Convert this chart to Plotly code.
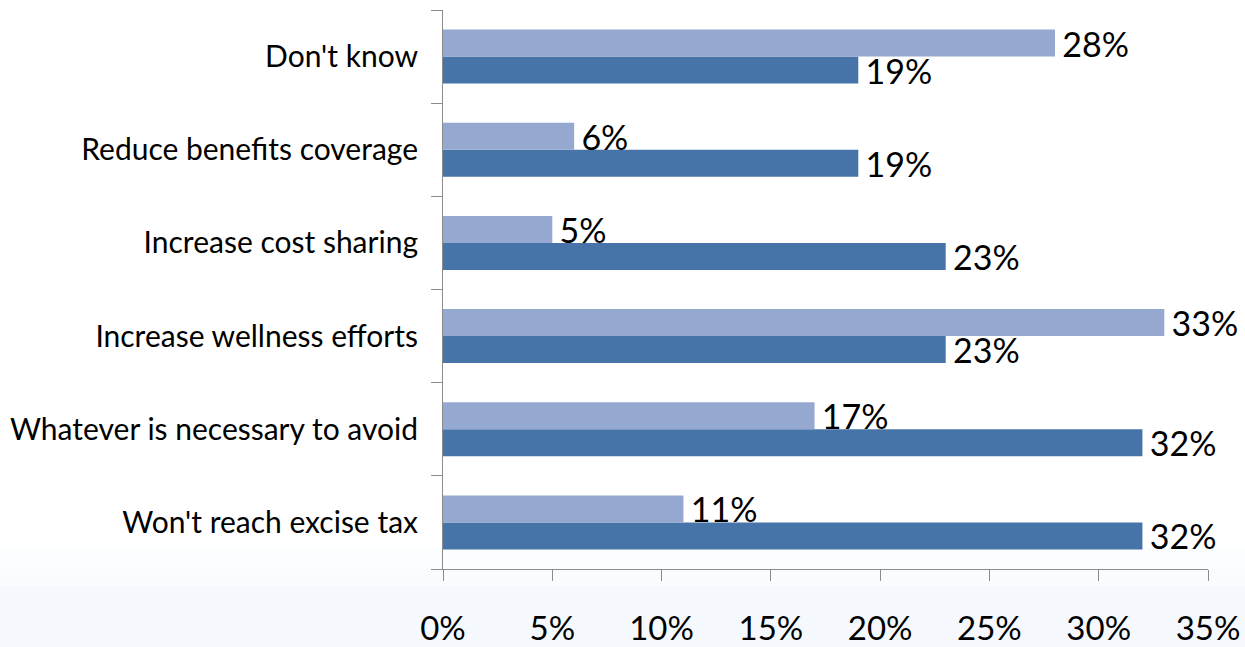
import plotly.graph_objects as go

# Survey responses, listed bottom-to-top as drawn on the category axis
categories = [
    "Won't reach excise tax",
    "Whatever is necessary to avoid",
    "Increase wellness efforts",
    "Increase cost sharing",
    "Reduce benefits coverage",
    "Don't know",
]
dark_values = [32, 32, 23, 23, 19, 19]
light_values = [11, 17, 33, 5, 6, 28]
x_ticks = [0, 5, 10, 15, 20, 25, 30, 35]
x_tick_labels = ["0%", "5%", "10%", "15%", "20%", "25%", "30%", "35%"]

DARK = "#4674A8"
LIGHT = "#95A9D0"
FONT = "Lato"

fig = go.Figure()
for vals, color in ((dark_values, DARK), (light_values, LIGHT)):
    fig.add_trace(go.Bar(
        y=categories, x=vals, orientation="h",
        marker=dict(color=color, line=dict(width=0)),
        # thin space keeps the value label clear of the bar end
        text=[f"\u2009{v}%" for v in vals], textposition="outside",
        constraintext="none",
        textfont=dict(family=FONT, size=34, color="#000000"),
        cliponaxis=False, showlegend=False,
    ))

# faint blue wash along the bottom of the page
bands = [(-0.14, -0.03, "#F5F9FD"), (-0.03, 0.0, "#F9FBFE"), (0.0, 0.04, "#FCFDFE")]
shapes = [
    dict(type="rect", xref="paper", yref="paper", x0=-0.6, x1=1.06, y0=y0, y1=y1,
         fillcolor=c, line=dict(width=0), layer="below")
    for y0, y1, c in bands
]

fig.update_layout(
    width=1245, height=647,
    margin=dict(l=443, r=37, t=10, b=78, autoexpand=False),
    paper_bgcolor="white", plot_bgcolor="rgba(0,0,0,0)",
    barmode="group", bargap=0.42, bargroupgap=0,
    font=dict(family=FONT, color="#000000"),
    shapes=shapes,
    xaxis=dict(
        range=[0, 35], tickvals=x_ticks, ticktext=x_tick_labels,
        showgrid=False, zeroline=False, automargin=False,
        showline=True, linecolor="#8C8C8C", linewidth=1,
        ticks="outside", ticklen=11, tickcolor="#8C8C8C",
        tickfont=dict(family=FONT, size=33, color="#000000"),
        ticklabelstandoff=19,
    ),
    yaxis=dict(
        categoryorder="array", categoryarray=categories,
        showgrid=False, zeroline=False, automargin=False,
        showline=True, linecolor="#8C8C8C", linewidth=1,
        ticks="outside", tickson="boundaries", ticklen=11, tickcolor="#8C8C8C",
        tickfont=dict(family=FONT, size=30, color="#000000"),
        ticklabelstandoff=18,
    ),
)

fig.write_html("out.html")
